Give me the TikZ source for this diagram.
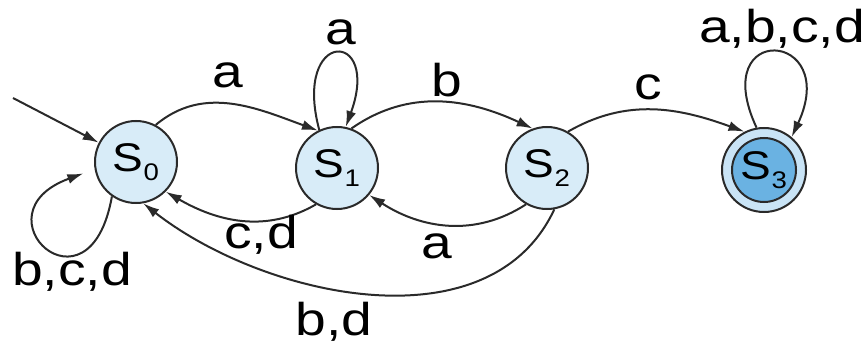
\documentclass[tikz,border=0pt]{standalone}
\usepackage{fontspec}
\setmainfont{Liberation Sans}
\usepackage{graphicx}
\usetikzlibrary{arrows.meta}
\definecolor{statefill}{HTML}{D8ECF8}
\definecolor{finalfill}{HTML}{6AB2E2}
\definecolor{ringfill}{HTML}{C9E4F6}
\definecolor{linec}{HTML}{2A2A2A}
\newcommand{\lbl}[1]{\scalebox{1.2}[1]{#1}}
\newcommand{\stname}[1]{\scalebox{1.15}[1]{S\raisebox{-9pt}{\fontsize{24}{24}\selectfont #1}}}
\begin{document}
\begin{tikzpicture}[x=1pt,y=1pt,
  state/.style={circle,draw=linec,line width=2pt,fill=statefill,minimum size=82pt,inner sep=0pt,font=\fontsize{40}{40}\selectfont},
  edge/.style={draw=linec,line width=2pt,-{Latex[length=16pt,width=10pt]}},
  lab/.style={anchor=base,inner sep=0pt,font=\fontsize{46}{46}\selectfont}]
\useasboundingbox (0,0) rectangle (866,343);
% states
\node[state] (s0) at (136,181) {\stname{0}};
\node[state] (s1) at (337,175) {\stname{1}};
\node[state] (s2) at (547,175) {\stname{2}};
\node[state,fill=ringfill,minimum size=84pt] (s3) at (764,173) {};
\node[state,fill=finalfill,minimum size=64pt] (s3in) at (s3.center) {\stname{3}};
% initial arrow
\coordinate (init) at (13,245);
\draw[edge] (init) -- (s0);
% edges
\draw[edge] (s0.62) to[out=40,in=160] (s1.117);
\draw[edge] (s1.115) .. controls +(105:105) and +(70:105) .. (s1.78);
\draw[edge] (s1.70) to[out=35,in=155] (s2.110);
\draw[edge] (s2.60) to[out=30,in=160] (s3.117);
\draw[edge] (s3.100) .. controls +(115:118) and +(65:118) .. (s3.50);
\draw[edge] (s1.240) to[out=210,in=-30] (s0.-45);
\draw[edge] (s2.240) to[out=213,in=-33] (s1.-40);
\draw[edge] (s2.-80) to[out=-115,in=-38,looseness=0.95] (s0.-80);
\draw[edge,shorten >=12pt] (s0.235) .. controls +(-100:130) and +(200:130) .. (s0.190);
% labels
\node[lab] (la01) at (228,255) {\lbl{a}};
\node[lab] (la11) at (341,298) {\lbl{a}};
\node[lab] (lb12) at (447,246) {\lbl{b}};
\node[lab] (lc23) at (648,243) {\lbl{c}};
\node[lab] (l33) at (782,300) {\lbl{a,b,c,d}};
\node[lab] (l00) at (72,58) {\lbl{b,c,d}};
\node[lab] (l10) at (261,95) {\lbl{c,d}};
\node[lab] (l21) at (437,85) {\lbl{a}};
\node[lab] (l20) at (334,8) {\lbl{b,d}};
\end{tikzpicture}
\end{document}
